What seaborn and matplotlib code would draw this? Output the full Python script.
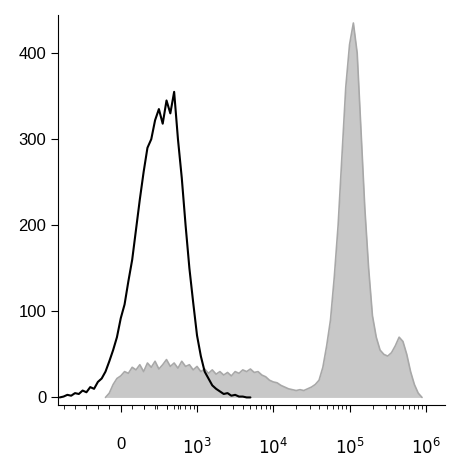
import numpy as np
import matplotlib
matplotlib.use("Agg")
import matplotlib.pyplot as plt
import seaborn as sns

# display units: 0 -> "0", 1 -> 10^3, 2 -> 10^4, 3 -> 10^5, 4 -> 10^6
black_start, gray_start, step = -0.80, -0.20, 0.05
black_counts = [0, 1, 3, 2, 5, 4, 8, 6, 12, 10, 18, 22, 30, 42, 55, 70, 92, 108, 135, 160,
                195, 230, 262, 290, 300, 322, 335, 318, 345, 330, 355, 300, 255, 200, 150,
                110, 72, 48, 30, 22, 14, 10, 7, 4, 5, 2, 3, 1, 1, 0, 0]
gray_counts = [0, 5, 15, 22, 25, 30, 28, 35, 32, 38, 30, 40, 35, 42, 33, 38, 44, 36, 40, 34,
               42, 36, 38, 32, 36, 30, 33, 28, 32, 27, 30, 26, 29, 25, 30, 28, 32, 30, 33, 29,
               30, 26, 24, 20, 18, 17, 14, 12, 10, 9, 8, 9, 8, 10, 12, 15, 20, 35, 60, 90, 140,
               200, 280, 360, 410, 435, 400, 310, 220, 150, 95, 70, 55, 50, 48, 52, 60, 70, 65,
               50, 30, 15, 5, 0]
tick_pos = [0, 1, 2, 3, 4]
tick_labels = ["0", "$10^3$", "$10^4$", "$10^5$", "$10^6$"]
y_ticks = [0, 100, 200, 300, 400]

black_x = black_start + step * np.arange(len(black_counts))
gray_x = gray_start + step * np.arange(len(gray_counts))

sns.set_style("ticks")
plt.rcParams["font.family"] = ["Liberation Sans", "DejaVu Sans"]
plt.rcParams["axes.edgecolor"] = "black"
plt.rcParams["xtick.color"] = "black"
plt.rcParams["ytick.color"] = "black"
fig = plt.figure(figsize=(4.62, 4.62), dpi=100)
ax = fig.add_axes([0.126, 0.123, 0.837, 0.844])

ax.fill_between(gray_x, gray_counts, color="#c8c8c8", linewidth=0)
sns.lineplot(x=gray_x, y=gray_counts, color="#a8a8a8", lw=1.2, ax=ax)
sns.lineplot(x=black_x, y=black_counts, color="black", lw=1.5, ax=ax)

ax.set_xlim(-0.82, 4.25)
ax.set_ylim(-9, 444)
ax.set_yticks(y_ticks)
ax.set_xticks(tick_pos)
ax.set_xticklabels(tick_labels, fontsize=12)
ax.tick_params(axis="x", pad=18, length=5)
ax.tick_params(axis="y", labelsize=12, length=5)

minor = [d - 3 + np.log10(k) for d in range(3, 7) for k in range(2, 10)]
minor += [-0.75, -0.6, -0.45, -0.3, -0.15, 0.15, 0.3, 0.45, 0.6, 0.75]
ax.set_xticks([m for m in minor if -0.82 < m < 4.25], minor=True)
ax.tick_params(axis="x", which="minor", length=3)

sns.despine(ax=ax)
fig.savefig("out.png", dpi=100)
